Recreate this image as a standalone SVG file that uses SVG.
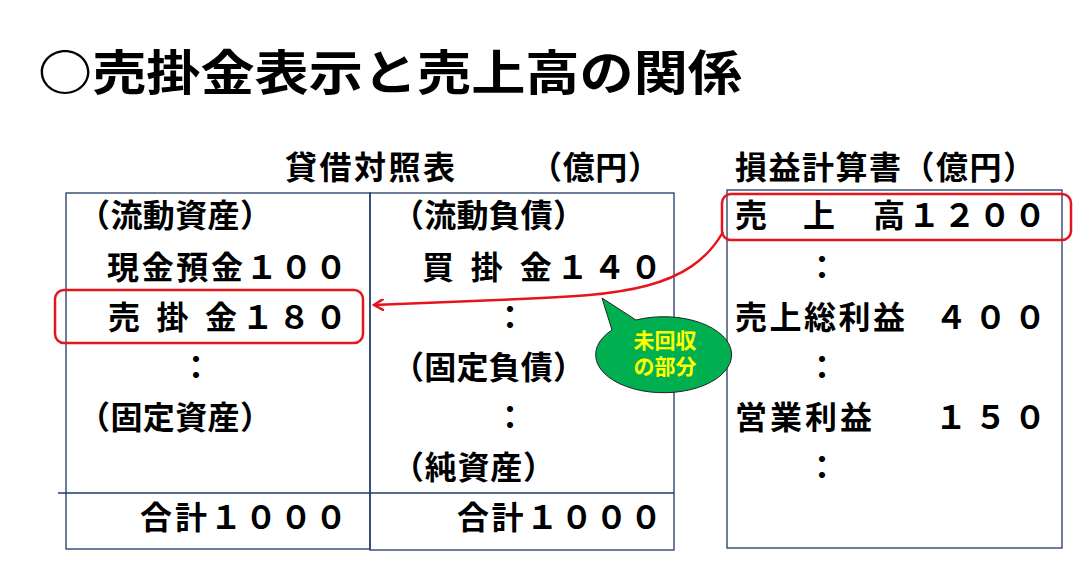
<svg xmlns="http://www.w3.org/2000/svg" width="1073" height="569" viewBox="0 0 1073 569">
<style>
text{font-family:"Noto Sans CJK JP","Noto Sans CJK SC",sans-serif;font-weight:bold;fill:#000}
.t{font-size:32px}
.c{text-anchor:middle}
.box{fill:none;stroke:#1f3864;stroke-width:1.3}
.hl{fill:none;stroke:#e8141c;stroke-width:2.5}
</style>
<defs><marker id="ah" markerWidth="12" markerHeight="12" refX="10" refY="6" orient="auto" markerUnits="userSpaceOnUse"><path d="M0,0 L10,6 L0,12" fill="none" stroke="#e8141c" stroke-width="2.5"/></marker></defs>
<rect width="1073" height="569" fill="#fff"/>
<text x="38" y="90" font-size="48" textLength="704" lengthAdjust="spacingAndGlyphs">○売掛金表示と売上高の関係</text>
<g id="bs">
<text class="t" x="285" y="179" textLength="170">貸借対照表</text>
<text class="t" x="530" y="179" textLength="130">（億円）</text>
<rect class="box" x="66" y="193" width="304" height="356"/>
<rect class="box" x="370" y="193" width="304" height="357"/>
<line class="box" x1="58" y1="493" x2="674" y2="493"/>
<text class="t" x="78" y="227" textLength="194">（流動資産）</text>
<text class="t" x="107" y="279" textLength="240">現金預金１００</text>
<text class="t" x="108" y="329" textLength="239" xml:space="preserve">売 掛 金１８０</text>
<text class="t c" x="196" y="379">：</text>
<text class="t" x="78" y="429" textLength="194">（固定資産）</text>
<text class="t" x="140" y="529" textLength="207">合計１０００</text>
<text class="t" x="392" y="227" textLength="193">（流動負債）</text>
<text class="t" x="422" y="279" textLength="240" xml:space="preserve">買 掛 金１４０</text>
<text class="t c" x="510" y="329">：</text>
<text class="t" x="392" y="379" textLength="193">（固定負債）</text>
<text class="t c" x="510" y="429">：</text>
<text class="t" x="392" y="479" textLength="163">（純資産）</text>
<text class="t" x="457" y="529" textLength="205">合計１０００</text>
</g>
<g id="pl">
<text class="t" x="735" y="179" textLength="300">損益計算書（億円）</text>
<rect class="box" x="727" y="190" width="335" height="358"/>
<text class="t" x="735" y="227">売</text>
<text class="t" x="803" y="227">上</text>
<text class="t" x="873" y="227" textLength="173">高１２００</text>
<text class="t c" x="822" y="279">：</text>
<text class="t" x="735" y="329" textLength="170">売上総利益</text>
<text class="t" x="935" y="329" textLength="111">４００</text>
<text class="t c" x="822" y="379">：</text>
<text class="t" x="735" y="429" textLength="137">営業利益</text>
<text class="t" x="935" y="429" textLength="111">１５０</text>
<text class="t c" x="822" y="479">：</text>
</g>
<g id="highlights">
<rect class="hl" x="55" y="290" width="308" height="53" rx="9"/>
<rect class="hl" x="722" y="194" width="349" height="46" rx="9"/>
</g>
<g id="connectors">
<path d="M723,232 C690,290 620,295 520,299 L374,305" fill="none" stroke="#e8141c" stroke-width="2.5" marker-end="url(#ah)"/>
</g>
<g id="callout">
<path d="M602,298 L636,320 A68,38 0 1 1 612,330 Z" fill="#00b050" stroke="#222" stroke-width="1"/>
<text x="665" y="348" font-size="21" class="c" style="fill:#ffff00">未回収</text>
<text x="665" y="374" font-size="21" class="c" style="fill:#ffff00">の部分</text>
</g>
</svg>
